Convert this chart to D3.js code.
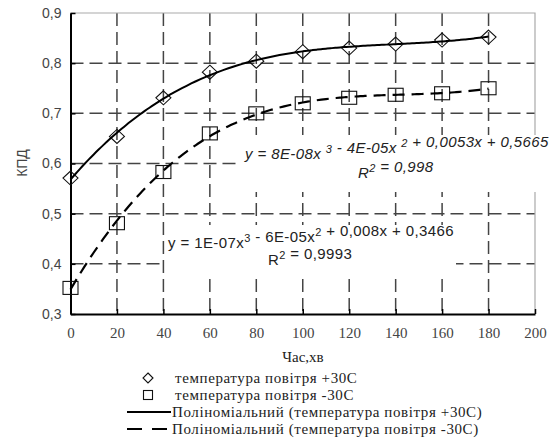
<!DOCTYPE html>
<html lang="uk">
<head>
    <meta charset="UTF-8">
    <title>КПД</title>
    <style>
        body { margin: 0; background: #fff; }
        svg { display: block; }
    </style>
</head>
<body>
    <div id="chart"></div>

    <script src="https://d3js.org/d3.v7.min.js"></script>
    <script>
        // data
        const times = [0, 20, 40, 60, 80, 100, 120, 140, 160, 180];
        const kpdPlus30 = [0.571, 0.654, 0.731, 0.782, 0.804, 0.823, 0.83, 0.838, 0.846, 0.852];
        const kpdMinus30 = [0.352, 0.481, 0.583, 0.66, 0.70, 0.72, 0.731, 0.737, 0.74, 0.75];
        const xTicks = [0, 20, 40, 60, 80, 100, 120, 140, 160, 180, 200];
        const yTicks = [0.3, 0.4, 0.5, 0.6, 0.7, 0.8, 0.9];
        const legendLabels = [
            "температура повітря +30С",
            "температура повітря -30С",
            "Поліноміальний (температура повітря +30С)",
            "Поліноміальний (температура повітря -30С)"
        ];

        const SERIF = "'Liberation Serif', 'DejaVu Serif', 'Times New Roman', serif";
        const SANS = "'Liberation Sans', Arial, 'DejaVu Sans', sans-serif";

        const width = 557, height = 440;
        const svg = d3.select("#chart").append("svg")
            .attr("width", width)
            .attr("height", height);

        const x = d3.scaleLinear().domain([0, 200]).range([70.5, 535]);
        const y = d3.scaleLinear().domain([0.3, 0.9]).range([314, 13]);
        const comma = d => d3.format(".1f")(d).replace(".", ",");

        // cubic least squares fit, like the spreadsheet trendline
        function polyFit(xs, ys, deg) {
            const n = deg + 1;
            const A = [];
            for (let r = 0; r < n; r++) {
                const row = [];
                for (let c = 0; c < n; c++) row.push(d3.sum(xs, v => Math.pow(v, r + c)));
                row.push(d3.sum(xs, (v, i) => ys[i] * Math.pow(v, r)));
                A.push(row);
            }
            for (let i = 0; i < n; i++) {
                let p = i;
                for (let k = i + 1; k < n; k++) if (Math.abs(A[k][i]) > Math.abs(A[p][i])) p = k;
                [A[i], A[p]] = [A[p], A[i]];
                for (let k = i + 1; k < n; k++) {
                    const f = A[k][i] / A[i][i];
                    for (let c = i; c <= n; c++) A[k][c] -= f * A[i][c];
                }
            }
            const coef = Array(n).fill(0);
            for (let i = n - 1; i >= 0; i--) {
                let s = A[i][n];
                for (let c = i + 1; c < n; c++) s -= A[i][c] * coef[c];
                coef[i] = s / A[i][i];
            }
            return t => coef.reduce((acc, c, i) => acc + c * Math.pow(t, i), 0);
        }

        // grid
        const grid = svg.append("g")
            .attr("stroke", "#444")
            .attr("stroke-width", 1.5)
            .attr("stroke-dasharray", "13,6");
        grid.selectAll("line.v")
            .data(xTicks.filter(d => d > 0 && d < 200))
            .enter().append("line")
            .attr("x1", d => x(d)).attr("x2", d => x(d))
            .attr("y1", y(0.9)).attr("y2", y(0.3));
        grid.selectAll("line.h")
            .data(yTicks.filter(d => d > 0.3 && d < 0.9))
            .enter().append("line")
            .attr("x1", x(0)).attr("x2", x(200))
            .attr("y1", d => y(d)).attr("y2", d => y(d));

        // light frame on top and right
        svg.append("path")
            .attr("d", `M${x(0)},${y(0.9)}H${x(200)}V${y(0.3)}`)
            .attr("fill", "none")
            .attr("stroke", "#aaa")
            .attr("stroke-width", 1.2);

        // white backing for the equations
        svg.append("rect").attr("x", 240).attr("y", 135).attr("width", 314).attr("height", 57).attr("fill", "#fff");
        svg.append("rect").attr("x", 165).attr("y", 225).attr("width", 291).attr("height", 48).attr("fill", "#fff");

        // axes
        const yAxis = svg.append("g")
            .attr("transform", `translate(${x(0)},0)`)
            .call(d3.axisLeft(y).tickValues(yTicks).tickFormat(comma)
                .tickSizeInner(-5).tickSizeOuter(0).tickPadding(9));
        yAxis.selectAll("text").style("font-family", SANS).style("font-size", "14px").attr("fill", "#444");

        const xAxis = svg.append("g")
            .attr("transform", `translate(0,${y(0.3)})`)
            .call(d3.axisBottom(x).tickValues(xTicks)
                .tickSizeInner(-5).tickSizeOuter(0).tickPadding(13));
        xAxis.selectAll("text").style("font-family", SERIF).style("font-size", "15px").attr("fill", "#444");

        [yAxis, xAxis].forEach(a => {
            a.select(".domain").attr("stroke", "#000").attr("stroke-width", 2);
            a.selectAll(".tick line").attr("stroke", "#000").attr("stroke-width", 1.5);
        });

        // markers (no fill, grid and curve show through)
        svg.selectAll("path.diamond")
            .data(times)
            .enter().append("path")
            .attr("d", (d, i) => {
                const cx = x(d), cy = y(kpdPlus30[i]);
                return `M${cx},${cy - 7}L${cx + 7.5},${cy}L${cx},${cy + 7}L${cx - 7.5},${cy}Z`;
            })
            .attr("fill", "none").attr("stroke", "#111").attr("stroke-width", 1.1);

        svg.selectAll("rect.square")
            .data(times)
            .enter().append("rect")
            .attr("x", d => x(d) - 7.5)
            .attr("y", (d, i) => y(kpdMinus30[i]) - 6.5)
            .attr("width", 15).attr("height", 13)
            .attr("fill", "none").attr("stroke", "#111").attr("stroke-width", 1.1);

        // trendlines
        const fitPlus = polyFit(times, kpdPlus30, 3);
        const fitMinus = polyFit(times, kpdMinus30, 3);
        const xs = d3.range(0, 180.01, 2);
        const line = d3.line().x(d => x(d[0])).y(d => y(d[1])).curve(d3.curveMonotoneX);

        svg.append("path")
            .datum(xs.map(t => [t, fitPlus(t)]))
            .attr("d", line)
            .attr("fill", "none").attr("stroke", "#000").attr("stroke-width", 2);

        svg.append("path")
            .datum(xs.map(t => [t, fitMinus(t)]))
            .attr("d", line)
            .attr("fill", "none").attr("stroke", "#000").attr("stroke-width", 2.2)
            .attr("stroke-dasharray", "12,7");

        // equations
        function sup(text, base, s) {
            text.append("tspan").text(base);
            text.append("tspan").attr("dy", -6).style("font-size", "11px").text(s);
            text.append("tspan").attr("dy", 6).text("");
        }
        const eqStyle = t => t.style("font-family", SANS).style("font-size", "15px")
            .attr("letter-spacing", 0.4).attr("fill", "#222");

        const eq1 = svg.append("text").attr("x", 245).attr("y", 159).call(eqStyle).style("font-style", "italic");
        sup(eq1, "y = 8E-08x ", "3");
        sup(eq1, " - 4E-05x ", "2");
        eq1.append("tspan").text("  + 0,0053x + 0,5665");
        const r1 = svg.append("text").attr("x", 358).attr("y", 178).call(eqStyle).style("font-style", "italic");
        sup(r1, "R", "2");
        r1.append("tspan").text(" = 0,998");

        const eq2 = svg.append("text").attr("x", 168).attr("y", 248).call(eqStyle);
        sup(eq2, "y = 1E-07x", "3");
        sup(eq2, " - 6E-05x", "2");
        eq2.append("tspan").text(" + 0,008x + 0,3466");
        const r2 = svg.append("text").attr("x", 268).attr("y", 265).call(eqStyle);
        sup(r2, "R", "2");
        r2.append("tspan").text(" = 0,9993");

        // axis titles
        svg.append("text")
            .attr("transform", "translate(27,163) rotate(-90)")
            .attr("text-anchor", "middle").attr("fill", "#444")
            .style("font-family", SANS).style("font-size", "14px")
            .text("КПД");
        svg.append("text")
            .attr("x", 303).attr("y", 362)
            .attr("text-anchor", "middle").attr("fill", "#222")
            .style("font-family", SERIF).style("font-size", "15px")
            .text("Час,хв");

        // legend
        const rows = [378, 395, 412, 429];
        const lg = svg.append("g");
        lg.selectAll("text")
            .data(legendLabels)
            .enter().append("text")
            .attr("x", (d, i) => i < 2 ? 175 : 172)
            .attr("y", (d, i) => rows[i] + 5)
            .attr("fill", "#222")
            .attr("letter-spacing", 0.6)
            .style("font-family", SERIF).style("font-size", "15px")
            .text(d => d);
        lg.append("path")
            .attr("d", `M148,${rows[0] - 5}L153,${rows[0]}L148,${rows[0] + 5}L143,${rows[0]}Z`)
            .attr("fill", "none").attr("stroke", "#111").attr("stroke-width", 1.1);
        lg.append("rect").attr("x", 143.5).attr("y", rows[1] - 4.5).attr("width", 9).attr("height", 9)
            .attr("fill", "none").attr("stroke", "#111").attr("stroke-width", 1.1);
        lg.append("line").attr("x1", 127).attr("x2", 171).attr("y1", rows[2]).attr("y2", rows[2])
            .attr("stroke", "#000").attr("stroke-width", 2);
        lg.append("line").attr("x1", 127).attr("x2", 171).attr("y1", rows[3]).attr("y2", rows[3])
            .attr("stroke", "#000").attr("stroke-width", 2.2).attr("stroke-dasharray", "15,10");
    </script>
</body>
</html>
